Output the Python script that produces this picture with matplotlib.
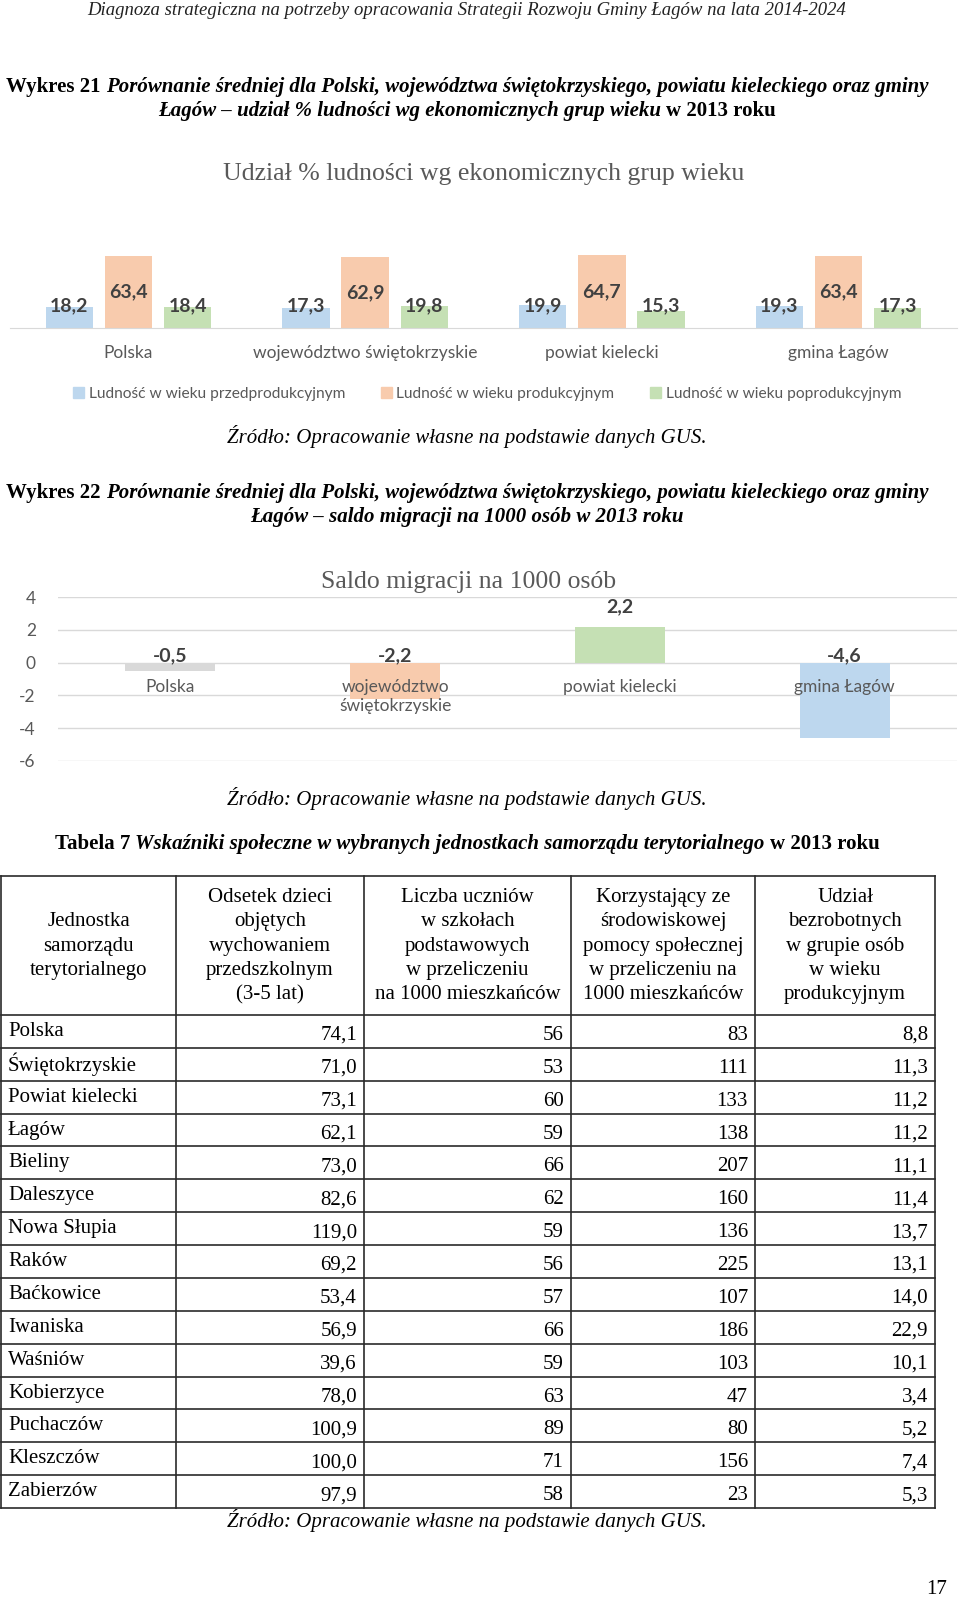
import numpy as np
import matplotlib
matplotlib.use("Agg")
import matplotlib.pyplot as plt
from matplotlib.patches import Patch

plt.rcParams["axes.unicode_minus"] = False

W, H = 960, 1599
SERIF = "Liberation Serif"
SANS = ["Lato", "DejaVu Sans"]

# Wykres 21 - udzial % ludnosci wg ekonomicznych grup wieku
jednostki = ["Polska", "województwo świętokrzyskie", "powiat kielecki", "gmina Łagów"]
przedprod = [18.2, 17.3, 19.9, 19.3]
prod = [63.4, 62.9, 64.7, 63.4]
poprod = [18.4, 19.8, 15.3, 17.3]
grupy = ["Ludność w wieku przedprodukcyjnym", "Ludność w wieku produkcyjnym",
         "Ludność w wieku poprodukcyjnym"]

# Wykres 22 - saldo migracji
jednostki2 = ["Polska", "województwo\nświętokrzyskie", "powiat kielecki", "gmina Łagów"]
saldo = [-0.5, -2.2, 2.2, -4.6]
ticks2 = [4, 2, 0, -2, -4, -6]

# Tabela 7
naglowki = [
    ["Jednostka", "samorządu", "terytorialnego"],
    ["Odsetek dzieci", "objętych", "wychowaniem", "przedszkolnym", "(3-5 lat)"],
    ["Liczba uczniów", "w szkołach", "podstawowych", "w przeliczeniu", "na 1000 mieszkańców"],
    ["Korzystający ze", "środowiskowej", "pomocy społecznej", "w przeliczeniu na", "1000 mieszkańców"],
    ["Udział", "bezrobotnych", "w grupie osób", "w wieku", "produkcyjnym"],
]
wiersze = ["Polska", "Świętokrzyskie", "Powiat kielecki", "Łagów", "Bieliny", "Daleszyce",
           "Nowa Słupia", "Raków", "Baćkowice", "Iwaniska", "Waśniów", "Kobierzyce",
           "Puchaczów", "Kleszczów", "Zabierzów"]
odsetek = [74.1, 71.0, 73.1, 62.1, 73.0, 82.6, 119.0, 69.2, 53.4, 56.9, 39.6, 78.0, 100.9, 100.0, 97.9]
uczniowie = [56, 53, 60, 59, 66, 62, 59, 56, 57, 66, 59, 63, 89, 71, 58]
pomoc = [83, 111, 133, 138, 207, 160, 136, 225, 107, 186, 103, 47, 80, 156, 23]
bezrob = [8.8, 11.3, 11.2, 11.2, 11.1, 11.4, 13.7, 13.1, 14.0, 22.9, 10.1, 3.4, 5.2, 7.4, 5.3]

zrodlo = "Źródło: Opracowanie własne na podstawie danych GUS."


def pl(v, d=1):
    return f"{v:.{d}f}".replace(".", ",")


fig = plt.figure(figsize=(W / 100, H / 100), dpi=100)
fig.patch.set_facecolor("white")

# strona w pikselach
page = fig.add_axes([0, 0, 1, 1])
page.set_xlim(0, W)
page.set_ylim(H, 0)
page.axis("off")


def px_axes(x0, y0, x1, y1):
    return fig.add_axes([x0 / W, 1 - y1 / H, (x1 - x0) / W, (y1 - y0) / H])


def rich(y, parts, size=15, cx=467):
    r = fig.canvas.get_renderer()
    txts = []
    for s, w, st in parts:
        txts.append(page.text(0, y, s, fontsize=size, fontweight=w, fontstyle=st,
                              fontfamily=SERIF, va="baseline", color="black"))
    gap = size * 100 / 72 * 0.25
    widths = [t.get_window_extent(r).width for t in txts]
    xx = cx - (sum(widths) + gap * (len(txts) - 1)) / 2
    for t, wd in zip(txts, widths):
        t.set_x(xx)
        xx += wd + gap


# naglowek strony
page.text(467, 15, "Diagnoza strategiczna na potrzeby opracowania Strategii Rozwoju Gminy Łagów na lata 2014-2024",
          fontsize=13.5, fontstyle="italic", fontfamily=SERIF, ha="center", va="baseline", color="#222222")

rich(92, [("Wykres 21", "bold", "normal"),
          ("Porównanie średniej dla Polski, województwa świętokrzyskiego, powiatu kieleckiego oraz gminy", "bold", "italic")])
rich(116, [("Łagów – udział % ludności wg ekonomicznych grup wieku", "bold", "italic"),
           ("w 2013 roku", "bold", "normal")])

# ---- wykres 21
page.text(484, 174, "Udział % ludności wg ekonomicznych grup wieku", fontsize=18.5, fontfamily=SERIF,
          ha="center", va="center", color="#595959")

ax1 = px_axes(10, 248, 957, 328)
x = np.arange(len(jednostki))
kolory = ["#bdd7ee", "#f8cbad", "#c5e0b4"]
for k, (vals, c, lab) in enumerate(zip([przedprod, prod, poprod], kolory, grupy)):
    pos = x + (k - 1) * 0.25
    ax1.bar(pos, vals, width=0.2, color=c, label=lab)
    for p, v in zip(pos, vals):
        ax1.text(p, max(v / 2, 19.4), pl(v), ha="center", va="center", fontsize=14,
                 fontweight="bold", color="#404040", family=SANS)
ax1.set_xlim(-0.5, 3.5)
ax1.set_ylim(0, 80 / 1.135)
for s in ["top", "left", "right"]:
    ax1.spines[s].set_visible(False)
ax1.spines["bottom"].set_color("#d9d9d9")
ax1.set_yticks([])
ax1.set_xticks(x, jednostki)
ax1.tick_params(axis="x", length=0, pad=12, labelsize=12.5, labelcolor="#595959")
for t in ax1.get_xticklabels():
    t.set_family(SANS)
ax1.patch.set_alpha(0)

leg = fig.legend(handles=[Patch(color=c, label=g) for c, g in zip(kolory, grupy)],
                 loc="center", bbox_to_anchor=(487 / W, 1 - 394 / H), ncol=3, frameon=False,
                 handlelength=0.7, handleheight=0.7, handletextpad=0.3, columnspacing=2.3,
                 prop={"family": SANS, "size": 11.2}, labelcolor="#595959")

page.text(467, 437, zrodlo, fontsize=15, fontstyle="italic", fontfamily=SERIF,
          ha="center", va="center")

rich(498, [("Wykres 22", "bold", "normal"),
           ("Porównanie średniej dla Polski, województwa świętokrzyskiego, powiatu kieleckiego oraz gminy", "bold", "italic")])
rich(522, [("Łagów – saldo migracji na 1000 osób w 2013 roku", "bold", "italic")])

# ---- wykres 22
page.text(469, 582, "Saldo migracji na 1000 osób", fontsize=18.5, fontfamily=SERIF,
          ha="center", va="center", color="#595959")

ax2 = px_axes(58, 597, 957, 761)
kol2 = ["#d9d9d9", "#f8cbad", "#c5e0b4", "#bdd7ee"]
ax2.bar(x, saldo, width=0.4, color=kol2, zorder=2)
ax2.set_xlim(-0.5, 3.5)
ax2.set_ylim(-6, 4)
ax2.set_yticks(ticks2)
ax2.set_xticks([])
ax2.yaxis.grid(True, color="#d9d9d9", lw=1)
ax2.set_axisbelow(True)
for s in ax2.spines.values():
    s.set_visible(False)
ax2.tick_params(axis="y", length=0, pad=16, labelsize=12.5, labelcolor="#595959")
for t in ax2.get_yticklabels():
    t.set_family(SANS)
ax2.patch.set_alpha(0)
for i, (nm, v) in enumerate(zip(jednostki2, saldo)):
    ax2.text(i, -1.0, nm, ha="center", va="top", fontsize=12.5, color="#595959",
             family=SANS, linespacing=1.25, zorder=3)
    if v >= 0:
        ax2.annotate(pl(v), (i, v), xytext=(0, 8), textcoords="offset points", ha="center",
                     va="bottom", fontsize=14, fontweight="bold", color="#404040", family=SANS)
    else:
        ax2.annotate(pl(v), (i, 0), xytext=(0, -1), textcoords="offset points", ha="center",
                     va="bottom", fontsize=14, fontweight="bold", color="#404040", family=SANS)

page.text(467, 799, zrodlo, fontsize=15, fontstyle="italic", fontfamily=SERIF,
          ha="center", va="center")

# ---- tabela 7
rich(849, [("Tabela 7", "bold", "normal"),
           ("Wskaźniki społeczne w wybranych jednostkach samorządu terytorialnego", "bold", "italic"),
           ("w 2013 roku", "bold", "normal")])

cols = [1, 176, 364, 571, 755, 935]
top, hdr_bot, rh = 876, 1015, 32.87
bottom = hdr_bot + rh * len(wiersze)
lc = "#2a2a2a"
for xc in cols:
    page.plot([xc, xc], [top, bottom], color=lc, lw=1.2)
for yy in [top, hdr_bot] + [hdr_bot + rh * (i + 1) for i in range(len(wiersze))]:
    page.plot([cols[0], cols[-1]], [yy, yy], color=lc, lw=1.2)

for c, lines in enumerate(naglowki):
    cx = (cols[c] + cols[c + 1]) / 2
    n = len(lines)
    for j, ln in enumerate(lines):
        page.text(cx, 946 + (j - (n - 1) / 2) * 24.3, ln, fontsize=15, fontfamily=SERIF,
                  ha="center", va="center")

for i, nm in enumerate(wiersze):
    yc = hdr_bot + rh * (i + 0.5)
    page.text(8, yc, nm, fontsize=15, fontfamily=SERIF, ha="left", va="center")
    vals = [pl(odsetek[i]), str(uczniowie[i]), str(pomoc[i]), pl(bezrob[i])]
    for c, s in enumerate(vals):
        page.text(cols[c + 2] - 7, yc + 4, s, fontsize=15, fontfamily=SERIF, ha="right", va="center")

page.text(467, 1521, zrodlo, fontsize=15, fontstyle="italic", fontfamily=SERIF,
          ha="center", va="center")
page.text(937, 1590, "17", fontsize=15, fontfamily=SERIF, ha="center", va="center")

fig.savefig("out.png", dpi=100, facecolor="white")
